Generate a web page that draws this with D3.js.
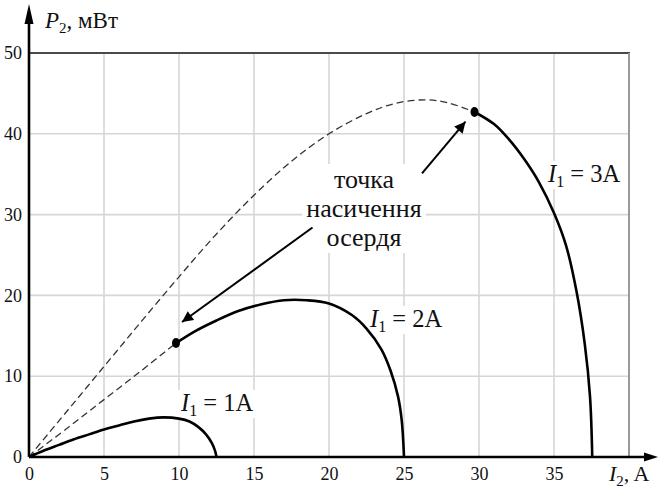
<!DOCTYPE html>
<html>
<head>
<meta charset="utf-8">
<script src="https://cdn.jsdelivr.net/npm/d3@7"></script>
</head>
<body>
<div id="chart"></div>
<script>
const width = 659;
const height = 488;
const fontName = 'Liberation Serif';

// ticks
const xTicks = [0, 5, 10, 15, 20, 25, 30, 35];
const yTicks = [0, 10, 20, 30, 40, 50];

// I1 = 1A, solid all the way
const curve1A = [
  [0, 0], [1, 0.8], [2, 1.5], [3, 2.2], [4, 2.8], [5, 3.4], [6, 3.9], [7, 4.4],
  [8, 4.75], [9, 4.9], [10, 4.75], [10.7, 4.4], [11.3, 3.7], [11.8, 2.8],
  [12.2, 1.7], [12.4, 0.8], [12.5, 0]
];

// I1 = 2A, dashed up to saturation point, solid after
const dash2A = [[0, 0], [2.5, 3.5], [5, 7.1], [7.5, 10.7], [9.8, 14.1]];
const curve2A = [
  [9.8, 14.1], [11, 15.5], [12.5, 16.9], [14, 18.1], [15.5, 18.9], [17, 19.4],
  [18.5, 19.4], [20, 19.0], [21.5, 17.6], [22.5, 15.9], [23.5, 13.3],
  [24.1, 10.7], [24.6, 7.5], [24.85, 4.5], [25, 0]
];

// I1 = 3A
const dash3A = [
  [0, 0], [2.5, 5.6], [5, 11.2], [7.5, 16.8], [10, 22.3], [12.5, 27.6],
  [15, 32.4], [17.5, 36.6], [20, 40.0], [22.5, 42.5], [24.5, 43.8],
  [26.5, 44.2], [28, 43.8], [29.7, 42.7]
];
const curve3A = [
  [29.7, 42.7], [31, 41.2], [32, 39.3], [33, 36.9], [34, 34.0], [35, 30.2],
  [35.8, 26.2], [36.5, 20.5], [37.05, 14.0], [37.4, 7.5], [37.55, 0]
];

// saturation points
const satPoints = [[9.8, 14.1], [29.7, 42.7]];

// annotation arrows [from, to]
const arrows = [
  [[26.2, 35.1], [29.1, 41.5]],
  [[18.9, 28.4], [10.2, 16.7]]
];

d3.select('body').style('margin', '0px');

const svg = d3.select('#chart')
  .append('svg')
  .attr('width', width)
  .attr('height', height)
  .style('display', 'block');

function serifText(sel) {
  return sel.attr('font-family', fontName).style('font-family', `"${fontName}"`);
}

const x = d3.scaleLinear().domain([0, 40]).range([29, 629]);
const y = d3.scaleLinear().domain([0, 50]).range([457, 53]);

const defs = svg.append('defs');
defs.append('marker')
  .attr('id', 'arr')
  .attr('viewBox', '0 0 10 10')
  .attr('refX', 10)
  .attr('refY', 5)
  .attr('markerWidth', 7.5)
  .attr('markerHeight', 5.5)
  .attr('markerUnits', 'strokeWidth')
  .attr('orient', 'auto')
  .append('path')
  .attr('d', 'M0,0 L10,5 L0,10 Z')
  .attr('fill', '#000');

// grid
const grid = svg.append('g');
grid.selectAll('.vg')
  .data(xTicks.filter(d => d > 0))
  .enter().append('line')
  .attr('x1', d => x(d)).attr('x2', d => x(d))
  .attr('y1', y(0)).attr('y2', y(50))
  .attr('stroke', '#d6d6d6').attr('stroke-width', 1.6);
grid.selectAll('.hg')
  .data(yTicks.filter(d => d > 0 && d < 50))
  .enter().append('line')
  .attr('x1', x(0)).attr('x2', x(40))
  .attr('y1', d => y(d)).attr('y2', d => y(d))
  .attr('stroke', '#d6d6d6').attr('stroke-width', 1.6);

// frame: top and right
svg.append('line')
  .attr('x1', x(0)).attr('x2', x(40) + 1)
  .attr('y1', y(50)).attr('y2', y(50))
  .attr('stroke', '#4a4a4a').attr('stroke-width', 2);
svg.append('line')
  .attr('x1', x(40)).attr('x2', x(40))
  .attr('y1', y(50)).attr('y2', y(0))
  .attr('stroke', '#999').attr('stroke-width', 2);

// tick labels via axes
const xAxis = svg.append('g')
  .attr('transform', `translate(0,${y(0)})`)
  .call(d3.axisBottom(x).tickValues(xTicks).tickSize(0).tickPadding(10));
xAxis.attr('font-family', fontName);
xAxis.select('.domain').remove();
serifText(xAxis.selectAll('text'))
  .attr('font-size', 18).attr('fill', '#111').attr('dy', '0.71em');

const yAxis = svg.append('g')
  .attr('transform', `translate(${x(0)},0)`)
  .call(d3.axisLeft(y).tickValues(yTicks).tickSize(0).tickPadding(7));
yAxis.attr('font-family', fontName);
yAxis.select('.domain').remove();
serifText(yAxis.selectAll('text'))
  .attr('font-size', 18).attr('fill', '#111');

// labels with white background
function boxedLabel(g, pad) {
  const bb = g.node().getBBox();
  g.insert('rect', ':first-child')
    .attr('x', bb.x - pad).attr('y', bb.y - pad + 3)
    .attr('width', bb.width + 2 * pad).attr('height', bb.height + 2 * pad - 6)
    .attr('fill', '#fff');
}

function i1Label(px, py, val) {
  const g = svg.append('g');
  const t = serifText(g.append('text')).attr('x', px).attr('y', py)
    .attr('font-size', 24.5).attr('fill', '#111');
  t.append('tspan').attr('font-style', 'italic').text('I');
  t.append('tspan').attr('font-size', 16).attr('dy', 5).text('1');
  t.append('tspan').attr('dy', -5).text(' = ' + val);
  boxedLabel(g, 2);
}

i1Label(181, 411, '1A');
i1Label(370, 327, '2A');
i1Label(548, 182, '3A');

// annotation text
const ann = svg.append('g');
const annLines = ['точка', 'насичення', 'осердя'];
serifText(ann.selectAll('text')
  .data(annLines)
  .enter().append('text'))
  .attr('x', 364)
  .attr('y', (d, i) => 188 + i * 29)
  .attr('text-anchor', 'middle')
  .attr('font-size', 26)
  .attr('fill', '#111')
  .text(d => d);
boxedLabel(ann, 4);

// axes with arrows
svg.append('line')
  .attr('x1', x(0)).attr('x2', 646)
  .attr('y1', y(0)).attr('y2', y(0))
  .attr('stroke', '#000').attr('stroke-width', 2.6);
svg.append('path')
  .attr('d', `M658,${y(0)} L644,${y(0) - 4.5} L644,${y(0) + 4.5} Z`)
  .attr('fill', '#000');
svg.append('line')
  .attr('x1', x(0)).attr('x2', x(0))
  .attr('y1', y(0)).attr('y2', 20)
  .attr('stroke', '#000').attr('stroke-width', 2.6);
svg.append('path')
  .attr('d', `M${x(0)},4 L${x(0) - 4.5},24 L${x(0) + 4.5},24 Z`)
  .attr('fill', '#000');

// curves
const line = d3.line()
  .x(d => x(d[0]))
  .y(d => y(d[1]))
  .curve(d3.curveCatmullRom.alpha(0.5));

[dash2A, dash3A].forEach(data => {
  svg.append('path')
    .attr('d', line(data))
    .attr('fill', 'none')
    .attr('stroke', '#333')
    .attr('stroke-width', 1.3)
    .attr('stroke-dasharray', '7,4');
});

[curve1A, curve2A, curve3A].forEach(data => {
  svg.append('path')
    .attr('d', line(data))
    .attr('fill', 'none')
    .attr('stroke', '#000')
    .attr('stroke-width', 2.6)
    .attr('stroke-linejoin', 'round');
});

svg.selectAll('.sat')
  .data(satPoints)
  .enter().append('ellipse')
  .attr('cx', d => x(d[0]))
  .attr('cy', d => y(d[1]))
  .attr('rx', 4)
  .attr('ry', 5)
  .attr('fill', '#000');

// annotation arrows
svg.selectAll('.arrow')
  .data(arrows)
  .enter().append('line')
  .attr('x1', d => x(d[0][0])).attr('y1', d => y(d[0][1]))
  .attr('x2', d => x(d[1][0])).attr('y2', d => y(d[1][1]))
  .attr('stroke', '#000')
  .attr('stroke-width', 2)
  .attr('marker-end', 'url(#arr)');

// axis titles
const pt = serifText(svg.append('text')).attr('x', 45).attr('y', 28)
  .attr('font-size', 23).attr('fill', '#111');
pt.append('tspan').attr('font-style', 'italic').text('P');
pt.append('tspan').attr('font-size', 15).attr('dy', 5).text('2');
pt.append('tspan').attr('dy', -5).text(', мВт');

const it = serifText(svg.append('text')).attr('x', 609).attr('y', 481)
  .attr('font-size', 22).attr('fill', '#111');
it.append('tspan').attr('font-style', 'italic').text('I');
it.append('tspan').attr('font-size', 15).attr('dy', 5).text('2');
it.append('tspan').attr('dy', -5).text(', A');
</script>
</body>
</html>
